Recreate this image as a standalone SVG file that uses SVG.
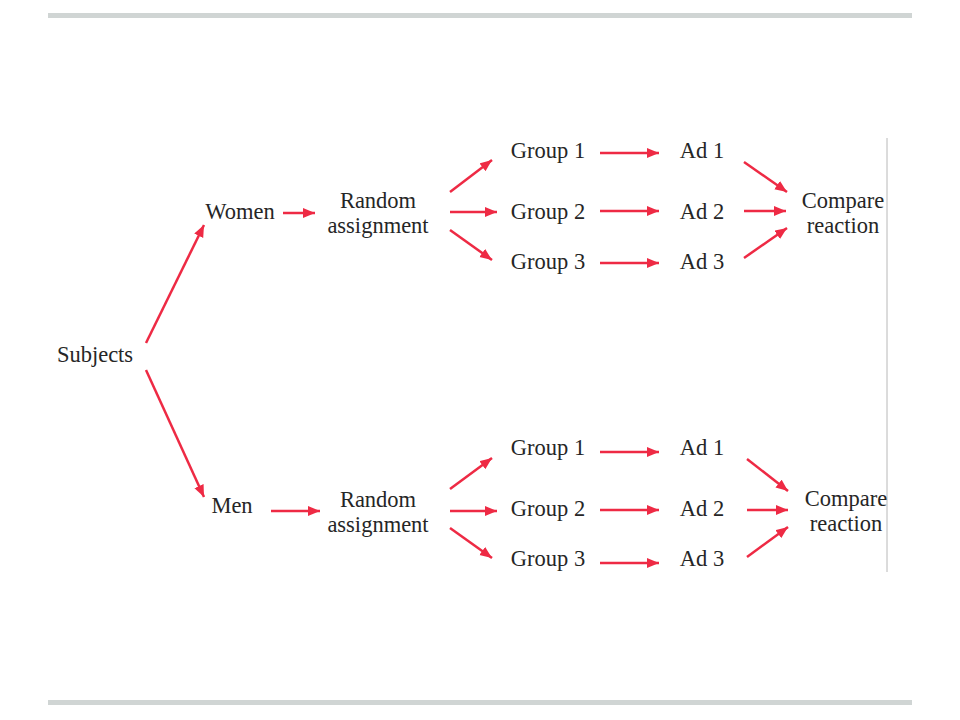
<svg xmlns="http://www.w3.org/2000/svg" width="960" height="720" viewBox="0 0 960 720">
<style>
text{font-family:"Liberation Serif","Times New Roman",serif;font-size:22.5px;fill:#262626;text-anchor:middle}
.c line{stroke:#ee2a44;stroke-width:2.5;marker-end:url(#ah)}
.bar{fill:#d0d5d4}
</style>
<defs>
<marker id="ah" markerUnits="userSpaceOnUse" markerWidth="13" markerHeight="11" refX="12" refY="5" orient="auto">
<path d="M0,0 L12,5 L0,10 z" fill="#ee2a44"/>
</marker>
</defs>
<rect class="bar" x="48" y="13" width="864" height="5"/>
<rect class="bar" x="48" y="700" width="864" height="5"/>
<line x1="887" y1="138" x2="887" y2="572" stroke="#b8b8b8" stroke-width="1"/>
<g id="subjects"><text x="95" y="362">Subjects</text></g>
<g id="women"><text x="240" y="219">Women</text></g>
<g id="random-w"><text x="378" y="208">Random</text><text x="378" y="233">assignment</text></g>
<g id="wg1"><text x="548" y="158">Group 1</text></g>
<g id="wg2"><text x="548" y="219">Group 2</text></g>
<g id="wg3"><text x="548" y="269">Group 3</text></g>
<g id="wad1"><text x="702" y="158">Ad 1</text></g>
<g id="wad2"><text x="702" y="219">Ad 2</text></g>
<g id="wad3"><text x="702" y="269">Ad 3</text></g>
<g id="wcompare"><text x="843" y="208">Compare</text><text x="843" y="233">reaction</text></g>
<g id="men"><text x="232" y="513">Men</text></g>
<g id="random-m"><text x="378" y="507">Random</text><text x="378" y="532">assignment</text></g>
<g id="mg1"><text x="548" y="455">Group 1</text></g>
<g id="mg2"><text x="548" y="516">Group 2</text></g>
<g id="mg3"><text x="548" y="566">Group 3</text></g>
<g id="mad1"><text x="702" y="455">Ad 1</text></g>
<g id="mad2"><text x="702" y="516">Ad 2</text></g>
<g id="mad3"><text x="702" y="566">Ad 3</text></g>
<g id="mcompare"><text x="846" y="506">Compare</text><text x="846" y="531">reaction</text></g>
<g id="connectors" class="c">
<line x1="146" y1="343" x2="204" y2="225"/>
<line x1="283" y1="213" x2="315" y2="213"/>
<line x1="450" y1="192" x2="492" y2="160"/>
<line x1="450" y1="212" x2="497" y2="212"/>
<line x1="450" y1="230" x2="492" y2="260"/>
<line x1="600" y1="153" x2="659" y2="153"/>
<line x1="600" y1="211" x2="659" y2="211"/>
<line x1="600" y1="263" x2="659" y2="263"/>
<line x1="744" y1="162" x2="787" y2="192"/>
<line x1="744" y1="211" x2="786" y2="211"/>
<line x1="744" y1="258" x2="787" y2="228"/>
<line x1="146" y1="370" x2="204" y2="497"/>
<line x1="271" y1="511" x2="320" y2="511"/>
<line x1="450" y1="489" x2="492" y2="458"/>
<line x1="450" y1="511" x2="497" y2="511"/>
<line x1="450" y1="528" x2="492" y2="558"/>
<line x1="600" y1="452" x2="659" y2="452"/>
<line x1="600" y1="510" x2="659" y2="510"/>
<line x1="600" y1="563" x2="659" y2="563"/>
<line x1="747" y1="459" x2="788" y2="491"/>
<line x1="747" y1="510" x2="788" y2="510"/>
<line x1="747" y1="557" x2="788" y2="527"/>
</g>
</svg>
